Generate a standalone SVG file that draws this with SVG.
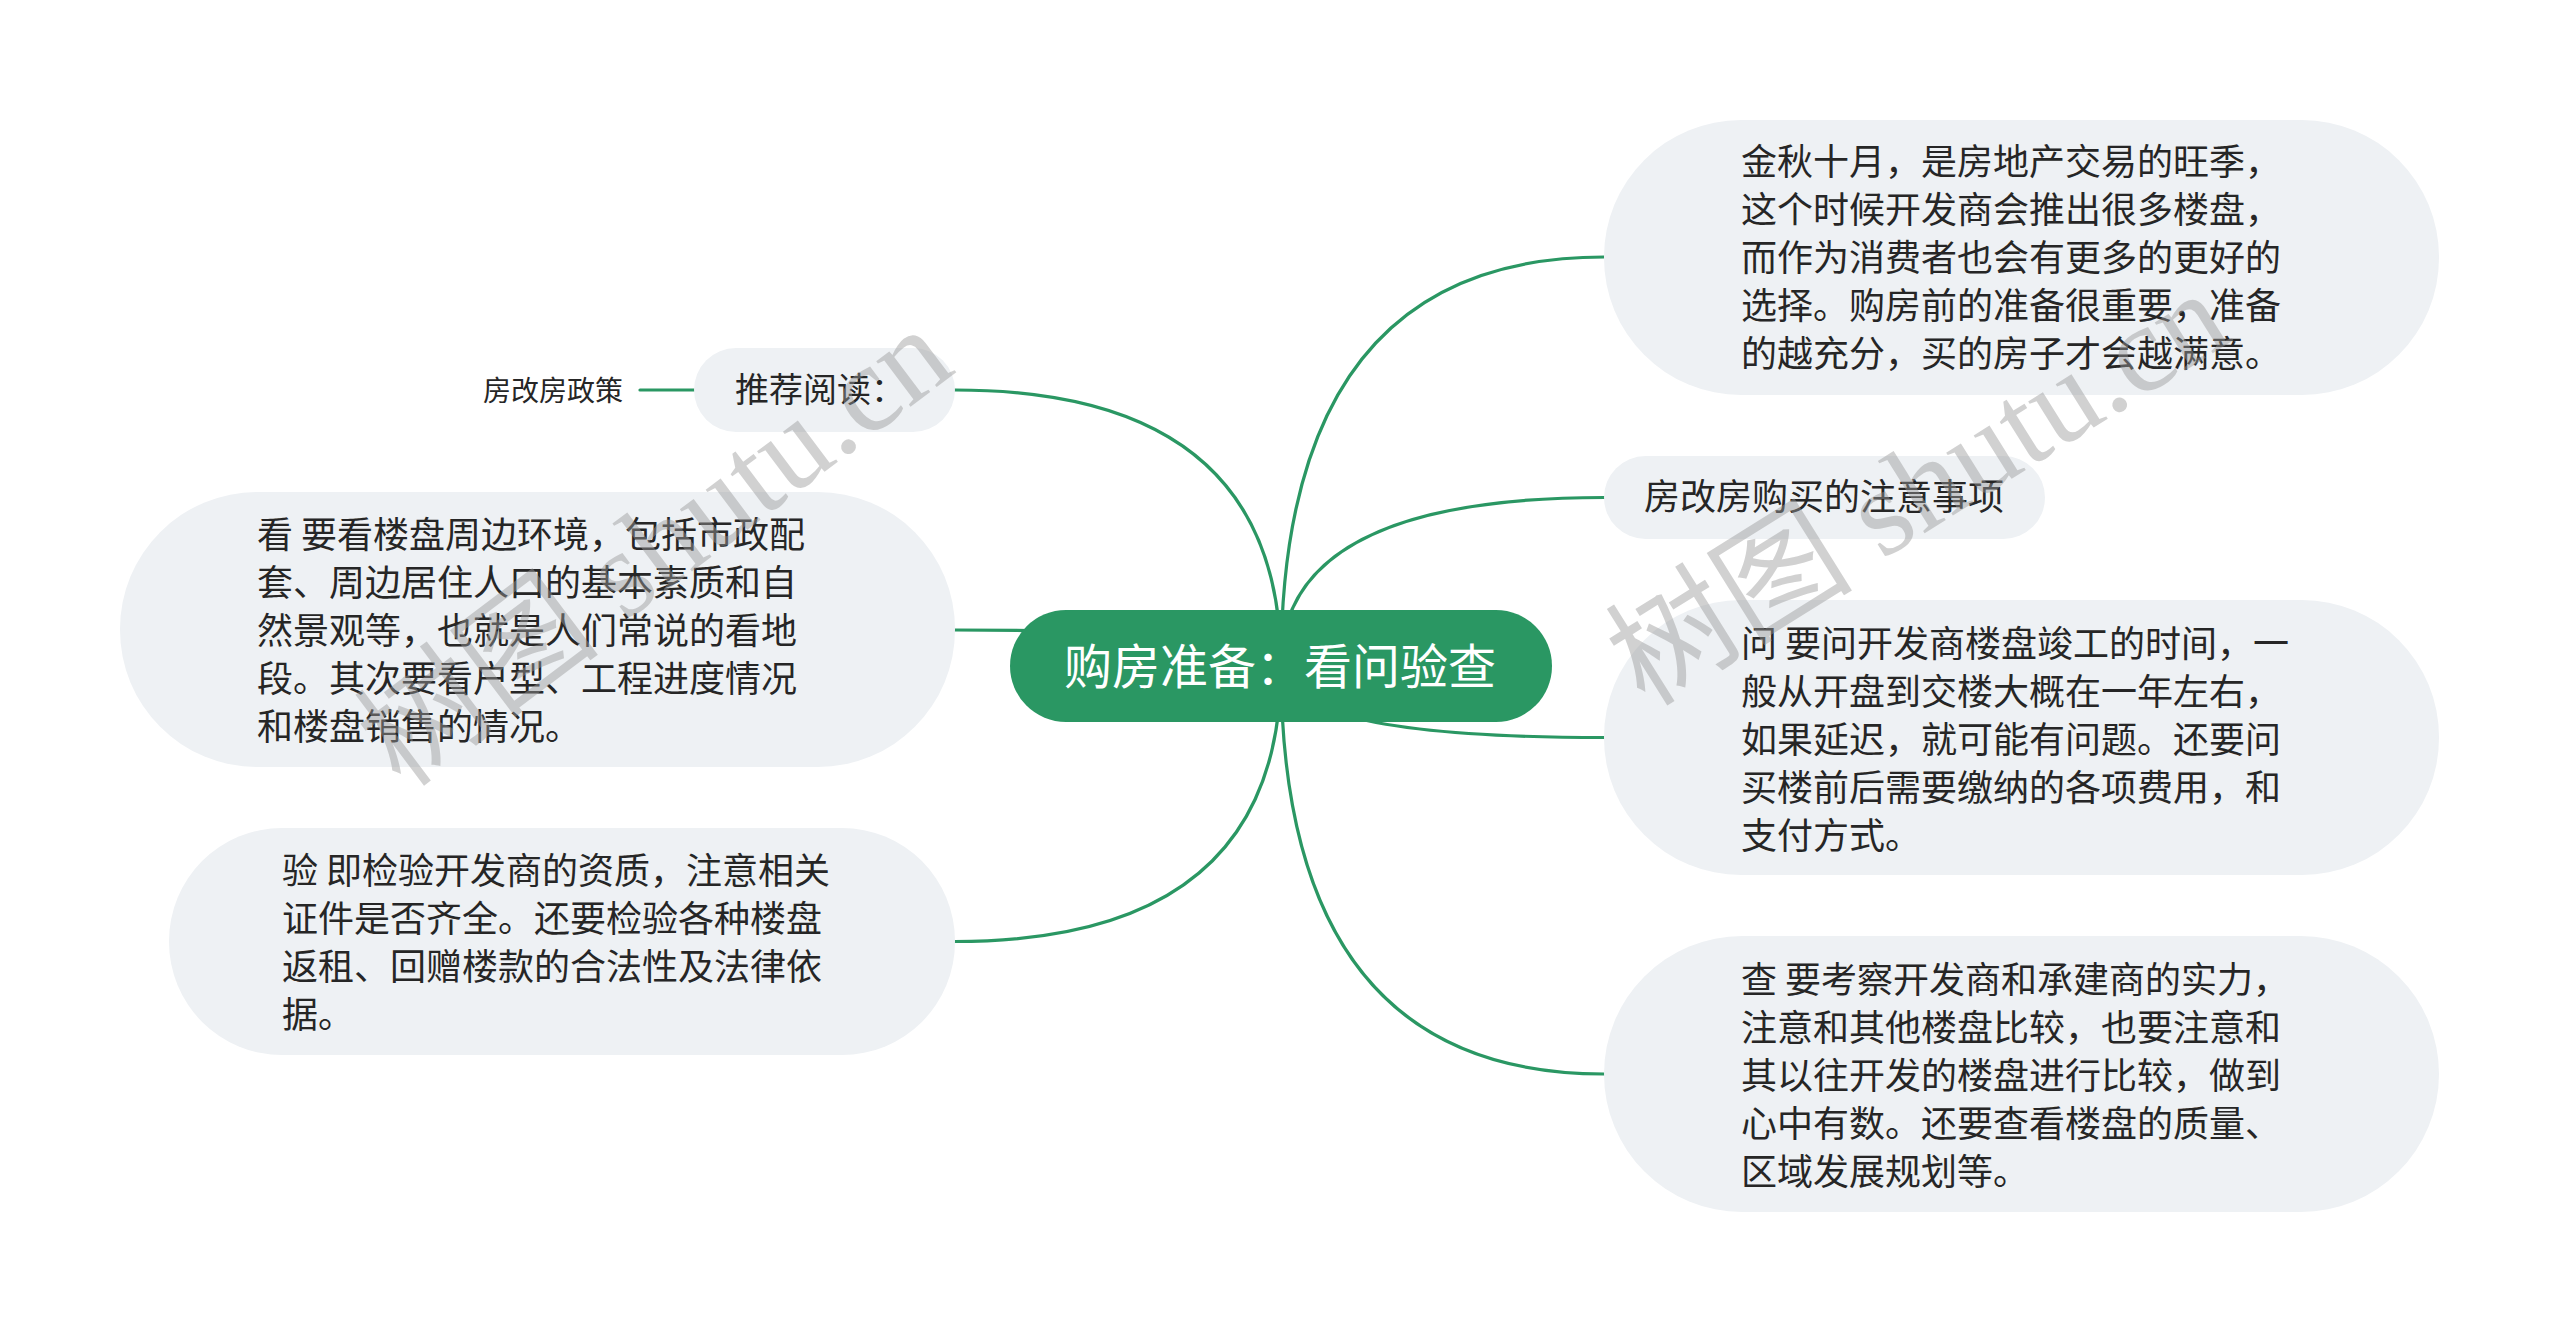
<svg xmlns="http://www.w3.org/2000/svg" width="2560" height="1332" viewBox="0 0 2560 1332">
<style>
.bg{fill:#ffffff}
.box{fill:#eef1f4}
.root{fill:#2a9763}
.t{font-family:"Noto Sans CJK SC","Noto Sans",sans-serif;font-size:36px;fill:#262626}
.rt{font-family:"Noto Sans CJK SC","Noto Sans",sans-serif;font-size:48px;fill:#ffffff}
.conn path,.conn line{fill:none;stroke:#2a9763;stroke-width:3.2;stroke-linecap:round}
.wm{font-family:"Liberation Serif","Noto Sans CJK SC",serif;font-size:124px;fill:#9a9a9a;opacity:0.45}
</style>
<rect class="bg" x="0" y="0" width="2560" height="1332"/>
<g id="connectors" class="conn">
<path d="M1281,666 Q1281,257 1604,257"/>
<path d="M1281,666 Q1281,497.5 1604,497.5"/>
<path d="M1281,666 Q1281,737.5 1604,737.5"/>
<path d="M1281,666 Q1281,1074 1604,1074"/>
<path d="M1281,666 Q1281,390 955,390"/>
<path d="M1281,666 Q1281,630 955,630"/>
<path d="M1281,666 Q1281,941.5 955,941.5"/>
<line x1="640" y1="390" x2="694" y2="390"/>
</g>
<g id="root">
<rect class="root" x="1010" y="610" width="542" height="112" rx="56" ry="56"/>
<text class="rt" x="1280" y="684" text-anchor="middle">购房准备：看问验查</text>
</g>
<g id="node-jinqiu">
<rect class="box" x="1604" y="120" width="835" height="275" rx="137" ry="137"/>
<text class="t"><tspan x="1741" y="175">金秋十月，是房地产交易的旺季，</tspan><tspan x="1741" y="223">这个时候开发商会推出很多楼盘，</tspan><tspan x="1741" y="271">而作为消费者也会有更多的更好的</tspan><tspan x="1741" y="319">选择。购房前的准备很重要，准备</tspan><tspan x="1741" y="367">的越充分，买的房子才会越满意。</tspan></text>
</g>
<g id="node-fgf">
<rect class="box" x="1604" y="456" width="441" height="83" rx="41.5" ry="41.5"/>
<text class="t" x="1644" y="510">房改房购买的注意事项</text>
</g>
<g id="node-wen">
<rect class="box" x="1604" y="600" width="835" height="275" rx="137" ry="137"/>
<text class="t"><tspan x="1741" y="657">问 要问开发商楼盘竣工的时间，一</tspan><tspan x="1741" y="705">般从开盘到交楼大概在一年左右，</tspan><tspan x="1741" y="753">如果延迟，就可能有问题。还要问</tspan><tspan x="1741" y="801">买楼前后需要缴纳的各项费用，和</tspan><tspan x="1741" y="849">支付方式。</tspan></text>
</g>
<g id="node-cha">
<rect class="box" x="1604" y="936" width="835" height="276" rx="138" ry="138"/>
<text class="t"><tspan x="1741" y="993">查 要考察开发商和承建商的实力，</tspan><tspan x="1741" y="1041">注意和其他楼盘比较，也要注意和</tspan><tspan x="1741" y="1089">其以往开发的楼盘进行比较，做到</tspan><tspan x="1741" y="1137">心中有数。还要查看楼盘的质量、</tspan><tspan x="1741" y="1185">区域发展规划等。</tspan></text>
</g>
<g id="node-tuijian">
<rect class="box" x="694" y="348" width="261" height="84" rx="42" ry="42"/>
<text class="t" x="735" y="402" style="font-size:34px">推荐阅读：</text>
</g>
<g id="node-fgfzc">
<text class="t" x="483" y="401" style="font-size:28px">房改房政策</text>
</g>
<g id="node-kan">
<rect class="box" x="120" y="492" width="835" height="275" rx="137" ry="137"/>
<text class="t"><tspan x="257" y="548">看 要看楼盘周边环境，包括市政配</tspan><tspan x="257" y="596">套、周边居住人口的基本素质和自</tspan><tspan x="257" y="644">然景观等，也就是人们常说的看地</tspan><tspan x="257" y="692">段。其次要看户型、工程进度情况</tspan><tspan x="257" y="740">和楼盘销售的情况。</tspan></text>
</g>
<g id="node-yan">
<rect class="box" x="169" y="828" width="786" height="227" rx="113" ry="113"/>
<text class="t"><tspan x="282" y="884">验 即检验开发商的资质，注意相关</tspan><tspan x="282" y="932">证件是否齐全。还要检验各种楼盘</tspan><tspan x="282" y="980">返租、回赠楼款的合法性及法律依</tspan><tspan x="282" y="1028">据。</tspan></text>
</g>
<g id="watermark">
<text class="wm" transform="translate(402,790) rotate(-37)">树图 shutu.cn</text>
<text class="wm" transform="translate(1645,708) rotate(-32)">树图 shutu.cn</text>
</g>
</svg>
